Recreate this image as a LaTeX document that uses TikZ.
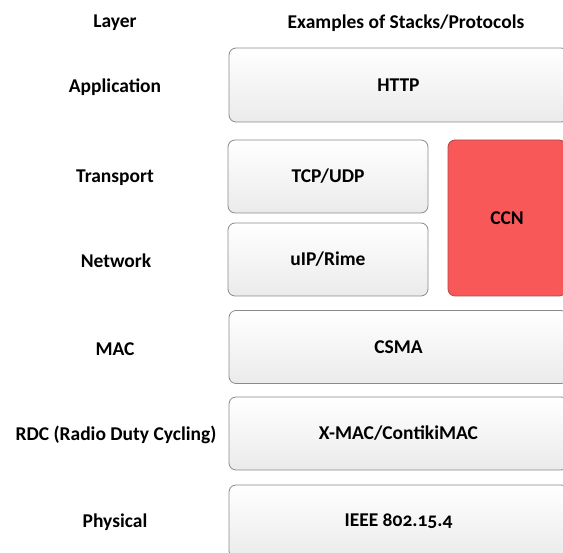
\documentclass[tikz,border=0pt]{standalone}
\usepackage{fontspec}
\setmainfont{Carlito}[Numbers=OldStyle]
\usetikzlibrary{shadings}
\definecolor{boxline}{HTML}{8A8A8A}
\definecolor{ccnred}{HTML}{F95858}
\definecolor{ccnline}{HTML}{B04848}
\begin{document}
\begin{tikzpicture}[x=10pt,y=-10pt,
	every node/.style={font=\fontsize{19.5}{23}\selectfont\bfseries},
	layerbox/.style={draw=boxline,line width=0.8pt,rounded corners=7pt,
		top color=white,bottom color=black!8,minimum height=73pt},
	ccnbox/.style={draw=ccnline,line width=0.8pt,rounded corners=7pt,
		fill=ccnred,minimum width=118pt,minimum height=156pt}]
	\useasboundingbox (0,0) rectangle (56.3,55.3);
	\clip (0,0) rectangle (56.3,55.3);

	% headers
	\node (hlayer) at (11.5,2.3) {Layer};
	\node (hstack) at (40.6,2.3) {Examples of Stacks/Protocols};

	% layer names
	\node (application) at (11.5,8.7) {Application};
	\node (transport) at (11.5,17.8) {Transport};
	\node (network) at (11.6,26.1) {Network};
	\node (mac) at (11.5,34.9) {MAC};
	\node (rdc) at (11.6,43.5) {RDC (Radio Duty Cycling)};
	\node (physical) at (11.5,52.2) {Physical};

	% protocol boxes
	\node[layerbox,minimum width=339pt,minimum height=74pt] (http) at (39.85,8.5) {HTTP};
	\node[layerbox,minimum width=200pt] (tcp) at (32.8,17.65) {TCP/UDP};
	\node[layerbox,minimum width=200pt] (uip) at (32.8,25.95) {uIP/Rime};
	\node[ccnbox] (ccn) at (50.7,21.8) {CCN};
	\node[layerbox,minimum width=339pt] (csma) at (39.85,34.7) {CSMA};
	\node[layerbox,minimum width=339pt] (xmac) at (39.85,43.35) {X-MAC/ContikiMAC};
	\node[layerbox,minimum width=339pt] (ieee) at (39.85,52.15) {IEEE 802.15.4};

\end{tikzpicture}
\end{document}
